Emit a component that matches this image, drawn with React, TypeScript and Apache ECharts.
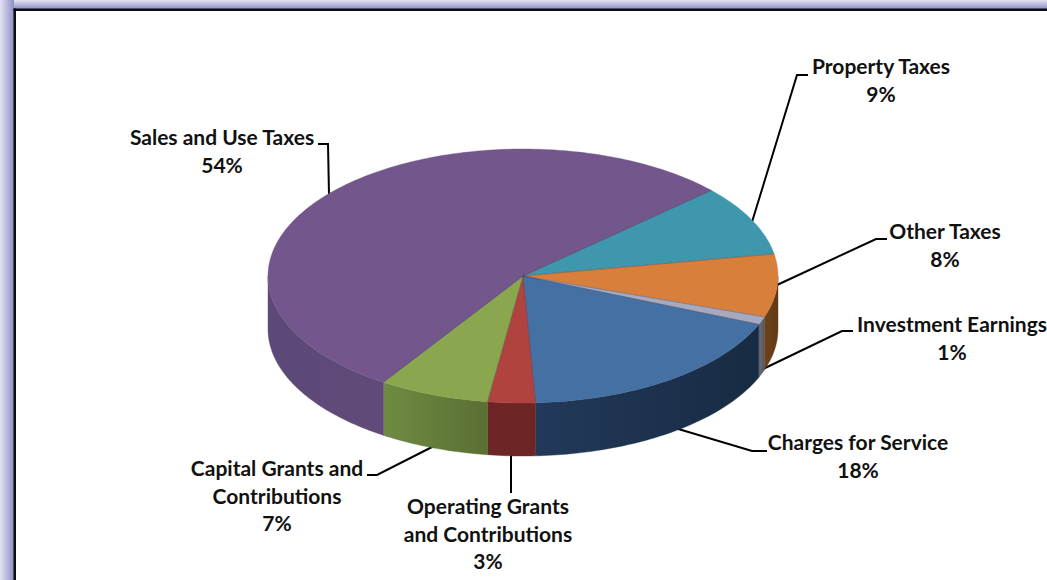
import React, { useEffect, useRef } from "react";
import * as echarts from "echarts";

const categories = [
  "Property Taxes",
  "Other Taxes",
  "Investment Earnings",
  "Charges for Service",
  "Operating Grants\nand Contributions",
  "Capital Grants and\nContributions",
  "Sales and Use Taxes",
];
const shares = [9, 8, 1, 18, 3, 7, 54];

const topColors = ["#3F97AE", "#D97F3C", "#A8A9BC", "#4570A3", "#B0423F", "#8AA64E", "#72568C"];
const wallLeft = ["#25596A", "#6E4218", "#6E6E7C", "#22395A", "#6E2525", "#6F8B42", "#5C4977"];
const wallRight = ["#25596A", "#5F3A16", "#55555F", "#172B42", "#6E2625", "#5A6F33", "#604A79"];

// Centre of each text block, in the same order as the categories
const labelCentreX = [881, 945, 952, 858, 488, 277, 222];
const labelTopY = [52, 217, 310, 428, 492, 454, 123];
const leaderPaths = [
  [[808, 75], [797, 75], [752, 222]],
  [[887, 239], [876, 239], [777, 285]],
  [[853, 331], [842, 331], [763, 369]],
  [[767, 451], [752, 451], [675, 428]],
  [[511, 493], [511, 455]],
  [[367, 475], [377, 475], [434, 446]],
  [[318, 144], [328, 144], [329, 195]],
];

const PIE = { cx: 523, cy: 276, rx: 255, ry: 127, depth: 53, startDeg: 42.4 };
const LINE_HEIGHT = 27.5;
const FONT = "Lato, 'Open Sans', sans-serif";

const total = shares.reduce((a, b) => a + b, 0);

function rimPoint(deg: number, drop = 0): number[] {
  const r = (deg * Math.PI) / 180;
  return [PIE.cx + PIE.rx * Math.cos(r), PIE.cy - PIE.ry * Math.sin(r) + drop];
}

function arcPoints(from: number, to: number, drop = 0): number[][] {
  const steps = Math.max(2, Math.ceil(Math.abs(from - to)));
  const pts: number[][] = [];
  for (let i = 0; i <= steps; i++) pts.push(rimPoint(from + ((to - from) * i) / steps, drop));
  return pts;
}

function sliceAngles(index: number): [number, number] {
  const before = shares.slice(0, index).reduce((a, b) => a + b, 0);
  const start = PIE.startDeg - (before / total) * 360;
  return [start, start - (shares[index] / total) * 360];
}

function renderSlice(params: any) {
  const i = params.dataIndex;
  const [start, end] = sliceAngles(i);
  const children: any[] = [];

  // The rim is visible only along the front half of the ellipse
  const hi = Math.min(start, 0);
  const lo = Math.max(end, -180);
  if (hi > lo) {
    const upper = arcPoints(hi, lo);
    const lower = arcPoints(lo, hi, PIE.depth);
    children.push({
      type: "polygon",
      shape: { points: [...upper, ...lower] },
      style: {
        fill: {
          type: "linear",
          x: 0,
          y: 0,
          x2: 1,
          y2: 0,
          colorStops: [
            { offset: 0, color: wallLeft[i] },
            { offset: 1, color: wallRight[i] },
          ],
        },
        stroke: wallRight[i],
        lineWidth: 0.4,
      },
    });
  }

  children.push({
    type: "polygon",
    shape: { points: [[PIE.cx, PIE.cy], ...arcPoints(start, end)] },
    style: { fill: topColors[i], stroke: topColors[i], lineWidth: 0.4 },
    z2: 5,
  });

  // Faint seam along the leading edge of the slice
  children.push({
    type: "line",
    shape: {
      x1: PIE.cx,
      y1: PIE.cy,
      x2: rimPoint(start)[0],
      y2: rimPoint(start)[1],
    },
    style: { stroke: "rgba(50,50,70,0.35)", lineWidth: 1 },
    z2: 6,
  });
  return { type: "group", children };
}

function frameGraphics(): any[] {
  const band = (x2: number, y2: number) => ({
    type: "linear",
    x: 0,
    y: 0,
    x2,
    y2,
    colorStops: [
      { offset: 0, color: "#E3E3F2" },
      { offset: 1, color: "#8E8EC9" },
    ],
  });
  return [
    { type: "rect", shape: { x: 0, y: 0, width: 1047, height: 9 }, style: { fill: band(0, 1) } },
    { type: "rect", shape: { x: 0, y: 0, width: 14, height: 580 }, style: { fill: band(1, 0) } },
    { type: "rect", shape: { x: 13.5, y: 8.5, width: 1033.5, height: 2.5 }, style: { fill: "#0C0C14" } },
    { type: "rect", shape: { x: 13.5, y: 8.5, width: 2.5, height: 571.5 }, style: { fill: "#0C0C14" } },
  ];
}

function labelGraphics(): any[] {
  const out: any[] = [];
  categories.forEach((name, i) => {
    out.push({
      type: "polyline",
      shape: { points: leaderPaths[i] },
      style: { stroke: "#000000", lineWidth: 2, fill: "none" },
    });
    out.push({
      type: "text",
      x: labelCentreX[i],
      y: labelTopY[i],
      style: {
        text: `${name}\n${shares[i]}%`,
        font: `700 21px ${FONT}`,
        lineHeight: LINE_HEIGHT,
        fill: "#111111",
        align: "center",
        verticalAlign: "top",
      },
    });
  });
  return out;
}

export default function App() {
  const ref = useRef<HTMLDivElement>(null);

  useEffect(() => {
    document.body.style.margin = "0";
    const chart = echarts.init(ref.current!, undefined, { renderer: "svg" });
    chart.setOption({
      animation: false,
      backgroundColor: "#FFFFFF",
      graphic: [...frameGraphics(), ...labelGraphics()],
      series: [
        {
          type: "custom",
          coordinateSystem: "none",
          renderItem: renderSlice,
          data: shares.map((value, i) => ({ name: categories[i], value })),
          silent: true,
        },
      ],
    });
    return () => chart.dispose();
  }, []);

  return <div ref={ref} style={{ width: 1047, height: 580 }} />;
}
